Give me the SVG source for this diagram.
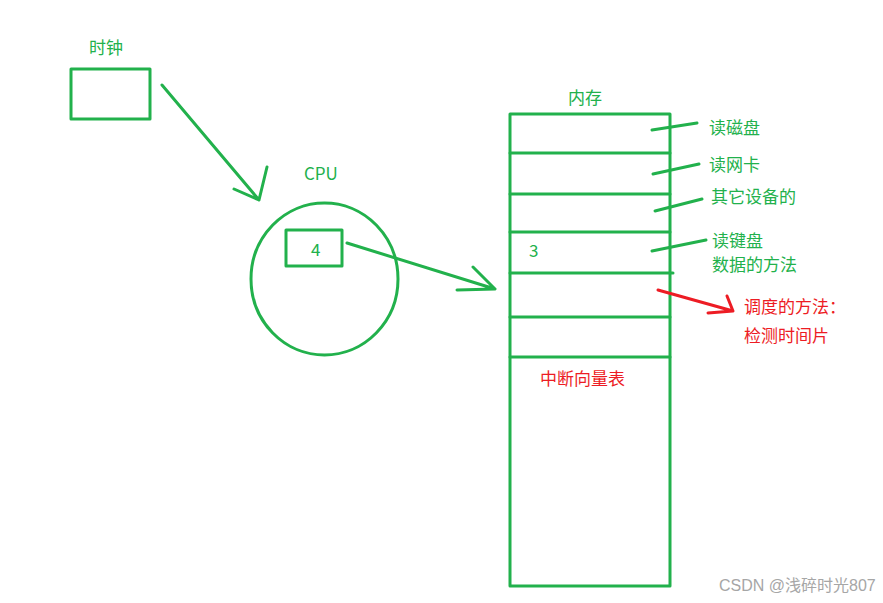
<svg xmlns="http://www.w3.org/2000/svg" width="883" height="603" viewBox="0 0 883 603">
<style>
.g{fill:none;stroke:#22b14c;stroke-width:3;stroke-linecap:round;stroke-linejoin:round}
.r{fill:none;stroke:#ed1c24;stroke-width:3;stroke-linecap:round;stroke-linejoin:round}
.tg{font-family:"Microsoft YaHei","Noto Sans CJK SC",sans-serif;font-size:17px;fill:#22b14c}
.tr{font-family:"Microsoft YaHei","Noto Sans CJK SC",sans-serif;font-size:17px;fill:#ed1c24}
.wm{font-family:"Liberation Sans","Noto Sans CJK SC",sans-serif;font-size:16px;fill:#a6a6a6}
</style>
<rect width="883" height="603" fill="#fff"/>
<g id="clock">
<text class="tg" x="89" y="54">时钟</text>
<rect class="g" x="71" y="69" width="79" height="50"/>
</g>
<g id="cpu">
<text class="tg" x="304" y="180">CPU</text>
<ellipse class="g" cx="324.5" cy="279" rx="73.5" ry="76"/>
<rect class="g" x="286" y="230" width="56" height="36"/>
<text class="tg" x="311" y="256">4</text>
</g>
<g id="memory">
<text class="tg" x="568" y="104">内存</text>
<rect class="g" x="510" y="114" width="160" height="472"/>
<path class="g" d="M510 153H670M510 194H670M510 232H670M510 273H673M510 317H670M510 357H670"/>
<text class="tg" x="529" y="257">3</text>
<text class="tr" x="540" y="385">中断向量表</text>
</g>
<g id="labels">
<text class="tg" x="709" y="134">读磁盘</text>
<text class="tg" x="709" y="171">读网卡</text>
<text class="tg" x="711" y="203">其它设备的</text>
<text class="tg" x="712" y="247">读键盘</text>
<text class="tg" x="712" y="271">数据的方法</text>
<text class="tr" x="744" y="313">调度的方法：</text>
<text class="tr" x="744" y="342">检测时间片</text>
</g>
<g id="connectors">
<path class="g" d="M162 85L259 200M267 167L259 200L234 189"/>
<path class="g" d="M347 243L495 289M473 267L495 289L457 290"/>
<path class="g" d="M652 130L697 123M653 174L699 164M655 211L702 199M652 251L706 240"/>
<path class="r" d="M658 290L733 311M727 296L733 311L708 313"/>
</g>
<text class="wm" x="719" y="591">CSDN @浅碎时光807</text>
</svg>
